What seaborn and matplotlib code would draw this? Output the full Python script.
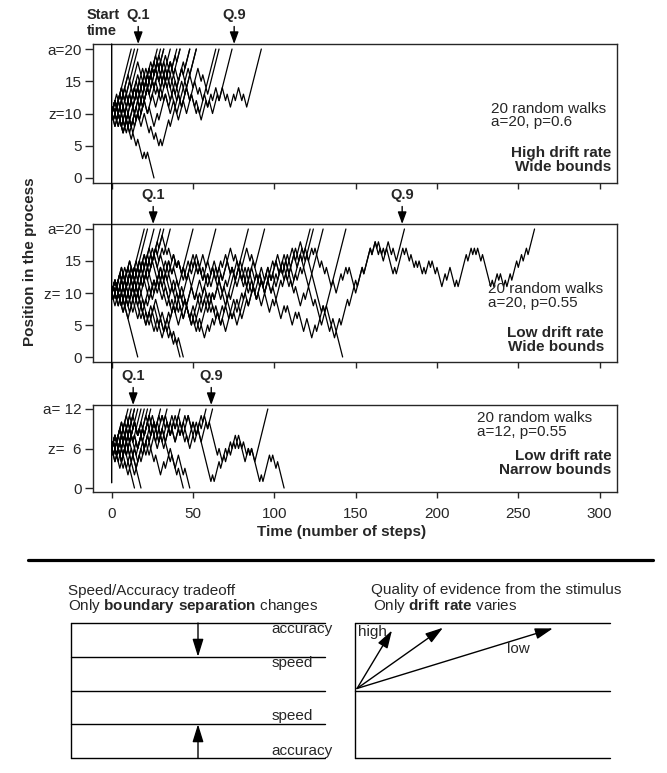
import numpy as np
import pandas as pd
import matplotlib
matplotlib.use("Agg")
import matplotlib.pyplot as plt
from matplotlib.patches import ConnectionPatch
import seaborn as sns

# Each walk is given by its turning points (positions where it changes
# direction). Every step moves one unit, so the time between two turning
# points is the size of the jump.

# a=20, z=10, p=0.6
high_wide = [
    [10, 11, 10, 20],
    [10, 12, 11, 13, 12, 20],
    [10, 9, 12, 11, 13, 12, 20],
    [10, 11, 8, 9, 7, 12, 11, 14, 12, 15, 14, 17, 16, 18, 17, 20],
    [10, 8, 11, 10, 13, 11, 14, 13, 16, 14, 17, 16, 20],
    [10, 12, 10, 11, 8, 10, 9, 13, 12, 15, 14, 16, 15, 17, 16, 20],
    [10, 9, 11, 8, 10, 9, 12, 11, 14, 13, 15, 13, 17, 16, 18, 17, 20],
    [10, 12, 11, 13, 10, 11, 8, 10, 9, 12, 11, 14, 13, 15, 14, 16, 14, 20],
    [10, 9, 11, 8, 9, 7, 9, 8, 12, 11, 16, 14, 17, 15, 18, 16, 17, 13, 14, 12, 15, 14, 20],
    [10, 11, 9, 12, 10, 13, 12, 15, 13, 16, 14, 17, 16, 18, 15, 16, 14, 20],
    [10, 8, 10, 7, 9, 8, 11, 10, 13, 11, 14, 13, 17, 15, 16, 14, 18, 17, 19, 18, 20],
    [10, 12, 11, 14, 12, 15, 13, 14, 11, 13, 12, 16, 14, 17, 16, 19, 17, 18, 16, 20],
    [10, 9, 12, 10, 11, 7, 9, 8, 11, 10, 14, 12, 15, 13, 16, 15, 18, 16, 17, 15, 18, 17, 20],
    [10, 11, 9, 10, 8, 12, 11, 13, 12, 15, 13, 17, 16, 18, 17, 19, 16, 17, 14, 16, 14, 17, 16, 20],
    [10, 12, 11, 14, 13, 16, 14, 18, 16, 17, 15, 18, 17, 19, 17, 18, 15, 16, 13, 15, 14, 17, 15, 17,
     16, 20],
    [10, 12, 9, 11, 8, 9, 7, 10, 9, 12, 10, 13, 11, 14, 12, 13, 10, 12, 11, 15, 13, 16, 14, 17, 15, 16,
     14, 20],
    [10, 11, 8, 9, 7, 10, 8, 11, 9, 12, 10, 11, 8, 10, 9, 13, 11, 14, 12, 13, 11, 14, 12, 15, 13, 14,
     12, 14, 13, 20],
    [10, 12, 10, 13, 11, 14, 13, 16, 14, 17, 15, 16, 13, 14, 12, 15, 12, 13, 10, 12, 11, 14, 12, 13,
     10, 11, 9, 12, 11, 13, 12, 14, 12, 20],
    [10, 13, 11, 14, 12, 13, 9, 10, 8, 10, 7, 8, 6, 7, 5, 6, 5, 9, 8, 11, 9, 12, 10, 13, 11, 12, 10,
     13, 11, 12, 10, 13, 12, 14, 12, 13, 11, 13, 12, 14, 12, 13, 11, 12, 20],
    [10, 12, 9, 10, 8, 9, 6, 7, 5, 6, 3, 4, 3, 4, 0],
]

# a=20, z=10, p=0.55
low_wide = [
    [10, 11, 10, 11, 9, 10, 0],
    [10, 12, 10, 13, 11, 14, 13, 20],
    [10, 9, 11, 9, 12, 11, 13, 12, 14, 13, 20],
    [10, 11, 9, 10, 8, 11, 10, 13, 12, 15, 14, 16, 15, 20],
    [10, 12, 11, 14, 12, 15, 13, 14, 11, 13, 12, 16, 15, 20],
    [10, 8, 10, 9, 11, 9, 12, 10, 13, 12, 15, 13, 16, 14, 17, 16, 20],
    [10, 11, 8, 9, 7, 10, 9, 12, 11, 14, 12, 15, 14, 17, 16, 20],
    [10, 9, 11, 8, 10, 7, 9, 6, 8, 5, 7, 4, 6, 5, 6, 4, 5, 3, 4, 2, 3, 0],
    [10, 11, 9, 10, 7, 9, 8, 11, 9, 10, 6, 7, 5, 7, 4, 5, 3, 5, 4, 5, 3, 4, 2, 3, 0],
    [10, 12, 11, 13, 11, 14, 12, 15, 13, 16, 14, 17, 16, 18, 17, 19, 16, 17, 15, 16, 14, 15, 13, 20],
    [10, 12, 10, 13, 11, 14, 12, 15, 13, 16, 14, 17, 15, 16, 14, 15, 14, 15, 13, 15, 14, 15, 13, 14,
     12, 14, 13, 15, 14, 15, 12, 13, 20],
    [10, 11, 9, 12, 10, 11, 8, 10, 9, 12, 11, 13, 10, 12, 11, 14, 12, 13, 10, 11, 9, 10, 7, 9, 8, 11,
     9, 12, 10, 13, 12, 15, 13, 14, 12, 15, 13, 14, 12, 20],
    [10, 12, 10, 11, 8, 10, 9, 11, 8, 12, 10, 11, 9, 12, 11, 14, 12, 13, 11, 12, 9, 11, 10, 13, 11, 14,
     13, 16, 14, 15, 13, 14, 11, 13, 12, 15, 13, 14, 12, 15, 14, 17, 15, 16, 14, 20],
    [10, 9, 11, 8, 9, 6, 8, 7, 9, 6, 7, 5, 7, 6, 8, 5, 6, 4, 6, 5, 8, 7, 10, 8, 9, 6, 7, 5, 6, 4, 5, 3,
     5, 4, 6, 5, 7, 5, 6, 4, 7, 6, 9, 7, 10, 8, 11, 9, 12, 10, 13, 12, 15, 13, 16, 14, 17, 15, 18, 16,
     20],
    [10, 11, 9, 12, 10, 13, 11, 12, 10, 11, 8, 10, 9, 12, 11, 13, 10, 11, 8, 9, 7, 10, 8, 9, 6, 8, 7,
     10, 9, 11, 8, 10, 9, 12, 10, 11, 9, 10, 13, 12, 14, 11, 12, 10, 12, 9, 10, 8, 10, 7, 9, 8, 9, 6,
     8, 7, 8, 5, 7, 6, 7, 4, 6, 3, 5, 4, 6, 5, 7, 4, 5, 3, 4, 0],
    [10, 12, 11, 14, 12, 15, 13, 14, 12, 15, 14, 17, 15, 16, 13, 14, 12, 15, 13, 14, 11, 13, 12, 15,
     14, 16, 13, 14, 12, 13, 11, 14, 12, 13, 10, 12, 11, 14, 13, 15, 12, 13, 11, 14, 12, 13, 11, 12,
     10, 13, 12, 15, 13, 14, 12, 14, 13, 16, 14, 17, 15, 20],
    [10, 9, 12, 10, 11, 8, 10, 9, 11, 8, 9, 6, 8, 7, 9, 6, 7, 5, 7, 6, 9, 7, 8, 6, 8, 5, 7, 6, 9, 8,
     10, 7, 8, 6, 7, 5, 8, 6, 9, 7, 10, 9, 12, 10, 11, 9, 12, 11, 10, 12, 10, 13, 12, 14, 13, 16, 14,
     17, 15, 16, 11, 12, 20],
    [10, 12, 11, 13, 11, 14, 12, 13, 10, 12, 11, 14, 13, 15, 12, 13, 11, 12, 9, 11, 10, 12, 9, 10, 8,
     11, 9, 10, 7, 9, 8, 10, 7, 8, 6, 8, 7, 9, 6, 7, 5, 7, 6, 9, 8, 11, 10, 13, 11, 14, 12, 13, 11, 14,
     13, 15, 13, 14, 12, 16, 15, 17, 7, 8, 7, 20],
    [10, 11, 8, 10, 9, 12, 10, 11, 9, 10, 7, 9, 8, 11, 10, 12, 9, 10, 8, 9, 7, 8, 5, 7, 6, 8, 5, 6, 4,
     6, 5, 8, 7, 10, 9, 11, 9, 10, 8, 10, 9, 12, 11, 13, 12, 14, 12, 13, 11, 13, 12, 14, 12, 13, 10,
     11, 9, 12, 11, 13, 11, 12, 10, 11, 8, 10, 9, 11, 8, 9, 6, 8, 7, 8, 5, 6, 4, 6, 5, 9, 8, 11, 10,
     14, 13, 17, 16, 18, 16, 17, 15, 18, 16, 17, 15, 20],
    [10, 12, 11, 13, 12, 14, 12, 13, 11, 14, 13, 15, 12, 13, 11, 12, 10, 13, 12, 14, 13, 16, 14, 15,
     13, 14, 12, 15, 14, 16, 13, 14, 12, 13, 11, 14, 13, 15, 14, 16, 15, 17, 15, 16, 13, 14, 12, 14,
     13, 15, 12, 13, 11, 12, 14, 13, 15, 14, 16, 14, 15, 12, 13, 11, 13, 12, 14, 13, 16, 15, 17, 16,
     17, 14, 15, 13, 14, 11, 12, 10, 11, 13, 12, 14, 13, 14, 11, 12, 11, 14, 13, 17, 16, 18, 17, 18,
     16, 17, 16, 17, 13, 14, 13, 17, 16, 17, 15, 16, 14, 15, 14, 15, 13, 14, 13, 15, 14, 15, 13, 14,
     13, 11, 13, 12, 14, 11, 12, 11, 16, 15, 17, 16, 17, 16, 17, 15, 16, 11, 12, 11, 13, 12, 13, 11,
     12, 11, 13, 12, 15, 14, 16, 15, 17, 16, 20],
]

# a=12, z=6, p=0.55
low_narrow = [
    [6, 7, 5, 12],
    [6, 8, 6, 7, 6, 12],
    [6, 5, 8, 6, 8, 7, 12],
    [6, 7, 5, 6, 3, 4, 2, 3, 0],
    [6, 8, 7, 9, 7, 10, 9, 12],
    [6, 4, 6, 5, 8, 7, 9, 8, 12],
    [6, 7, 5, 6, 4, 6, 3, 4, 2, 3, 0],
    [6, 7, 5, 8, 7, 9, 7, 10, 9, 12],
    [6, 5, 7, 4, 6, 5, 8, 7, 9, 8, 12],
    [6, 8, 6, 7, 5, 8, 7, 10, 8, 9, 8, 12],
    [6, 4, 5, 3, 6, 5, 8, 6, 7, 6, 9, 8, 12],
    [6, 7, 4, 6, 5, 7, 4, 5, 3, 6, 5, 8, 7, 10, 9, 12],
    [6, 8, 7, 10, 8, 9, 7, 10, 8, 9, 6, 7, 5, 8, 7, 9, 8, 12],
    [6, 5, 7, 4, 5, 3, 5, 4, 6, 5, 8, 6, 9, 8, 10, 7, 8, 6, 9, 8, 10, 9, 12],
    [6, 8, 7, 9, 6, 7, 5, 6, 3, 5, 4, 6, 5, 7, 4, 5, 2, 4, 3, 5, 4, 5, 2, 3, 0],
    [6, 7, 5, 8, 7, 10, 9, 11, 8, 9, 7, 10, 8, 9, 6, 8, 7, 8, 5, 6, 3, 5, 2, 3, 0],
    [6, 7, 5, 8, 6, 9, 7, 8, 6, 9, 8, 11, 9, 10, 8, 11, 10, 11, 8, 9, 7, 10, 9, 11, 10, 11, 9, 10, 8,
     9, 7, 10, 9, 12],
    [6, 5, 8, 7, 9, 6, 7, 5, 6, 4, 7, 6, 8, 7, 10, 9, 11, 10, 11, 9, 10, 8, 9, 7, 9, 8, 10, 9, 11, 9,
     10, 8, 10, 9, 12],
    [6, 8, 7, 9, 8, 10, 8, 9, 7, 8, 6, 9, 8, 10, 9, 11, 9, 10, 8, 9, 7, 10, 9, 11, 10, 11, 8, 9, 7, 9,
     8, 10, 9, 11, 10, 11, 9, 10, 5, 6, 4, 6, 5, 7, 6, 8, 7, 8, 6, 7, 5, 6, 5, 6, 4, 12],
    [6, 8, 7, 10, 9, 11, 10, 11, 9, 10, 8, 10, 9, 11, 10, 11, 8, 9, 7, 9, 8, 10, 9, 11, 9, 10, 8, 9, 7,
     8, 6, 8, 7, 9, 1, 2, 1, 4, 3, 5, 4, 6, 5, 7, 6, 7, 6, 7, 4, 6, 5, 6, 1, 2, 1, 5, 4, 5, 3, 4, 0],
]

panel_walks = [high_wide, low_wide, low_narrow]
panel_yticks = [[0, 5, 10, 15, 20], [0, 5, 10, 15, 20], [0, 6, 12]]
panel_yticklabels = [["0", "5", "z=10", "15", "a=20"],
                     ["0", "5", "z= 10", "15", "a=20"],
                     ["0", "z=  6", "a= 12"]]
panel_info = ["20 random walks\na=20, p=0.6",
              "20 random walks\na=20, p=0.55",
              "20 random walks\na=12, p=0.55"]
panel_title = ["High drift rate\nWide bounds",
               "Low drift rate\nWide bounds",
               "Low drift rate\nNarrow bounds"]
q1_times = [16.3, 25.5, 13.2]
q9_times = [75.3, 178.6, 61.2]

# schematic panels
tradeoff_bounds = [1.0, 0.5, 0.0, -0.5, -1.0]
tradeoff_labels = ["accuracy", "speed", "", "speed", "accuracy"]
drift_labels = ["high", "", "low"]
drift_end_t = [0.145, 0.345, 0.776]
drift_end_y = [0.89, 0.93, 0.92]


def walk_frame(walks):
    frames = []
    for i, pts in enumerate(walks):
        pts = np.asarray(pts)
        t = np.concatenate([[0], np.cumsum(np.abs(np.diff(pts)))])
        frames.append(pd.DataFrame({"walk": i, "t": t, "pos": pts}))
    return pd.concat(frames, ignore_index=True)


sns.set_style("ticks")
plt.rcParams["font.family"] = ["Liberation Sans", "DejaVu Sans"]
plt.rcParams["mathtext.fontset"] = "custom"
plt.rcParams["mathtext.rm"] = "Liberation Sans"
plt.rcParams["mathtext.bf"] = "Liberation Sans:bold"
plt.rcParams["axes.linewidth"] = 1.0

W, H = 667, 773
fig = plt.figure(figsize=(W / 100, H / 100), dpi=100)


def box(l, t, r, b):
    return [l / W, 1 - b / H, (r - l) / W, (b - t) / H]


bg = fig.add_axes([0, 0, 1, 1])
bg.set_xlim(0, W)
bg.set_ylim(H, 0)
bg.axis("off")

axes = [fig.add_axes(box(93, 44, 617, 183)),
        fig.add_axes(box(93, 224, 617, 362)),
        fig.add_axes(box(93, 405, 617, 492))]
ylims = [(-0.78, 20.78), (-0.78, 20.78), (-0.6, 12.6)]
info_xy = [(0.76, 0.486), (0.754, 0.478), (0.733, 0.77)]
title_xy = [(0.989, 0.169), (0.975, 0.156), (0.989, 0.339)]

arrow_q = dict(arrowstyle="-|>,head_length=0.6,head_width=0.22", color="black",
               lw=1.0, shrinkA=1, shrinkB=0, mutation_scale=12)

for i, ax in enumerate(axes):
    df = walk_frame(panel_walks[i])
    sns.lineplot(data=df, x="t", y="pos", units="walk", estimator=None, sort=False,
                 color="black", lw=0.9, ax=ax, legend=False)
    ax.set_xlim(-11.5, 310.7)
    ax.set_ylim(*ylims[i])
    ax.set_xticks(range(0, 301, 50))
    ax.set_yticks(panel_yticks[i])
    ax.set_yticklabels(panel_yticklabels[i])
    ax.set_xlabel("")
    ax.set_ylabel("")
    ax.tick_params(axis="x", length=4, width=1, pad=7, labelsize=11)
    ax.tick_params(axis="y", length=6, width=1, pad=2, labelsize=11)
    if i < 2:
        ax.tick_params(axis="x", labelbottom=False)
    for s in ax.spines.values():
        s.set_visible(True)
        s.set_linewidth(1)
    ax.text(*info_xy[i], panel_info[i], transform=ax.transAxes, ha="left", va="center",
            fontsize=11, linespacing=0.95)
    ax.text(*title_xy[i], panel_title[i], transform=ax.transAxes, ha="right", va="center",
            fontsize=11, fontweight="bold", linespacing=1.0)
    for q, lab in [(q1_times[i], "Q.1"), (q9_times[i], "Q.9")]:
        ax.annotate(lab, xy=(q, 1), xycoords=("data", "axes fraction"), xytext=(0, 21),
                    textcoords="offset points", ha="center", va="center", fontsize=10.5,
                    fontweight="bold", arrowprops=arrow_q, annotation_clip=False)

# start time line through the three panels
start = ConnectionPatch(xyA=(0, ylims[0][1]), coordsA=axes[0].transData,
                        xyB=(0, 0.8), coordsB=axes[2].transData, color="black", lw=1.0)
fig.add_artist(start)

bg.text(87, 15, "Start", fontsize=10.5, fontweight="bold", va="center")
bg.text(87, 31, "time", fontsize=10.5, fontweight="bold", va="center")
bg.text(30, 262, "Position in the process", rotation=90, fontsize=11, fontweight="bold",
        ha="center", va="center")
bg.text(342, 532, "Time (number of steps)", fontsize=11, fontweight="bold",
        ha="center", va="center")

# separator and schematic diagrams
bg.plot([28, 653], [560, 560], color="black", lw=2.3)
bg.text(68, 591, "Speed/Accuracy tradeoff", fontsize=11, va="center")
bg.text(68, 606, r"Only $\bf{boundary\ separation}$ changes", fontsize=11, va="center")
bg.text(371, 590, "Quality of evidence from the stimulus", fontsize=11, va="center")
bg.text(373, 606, r"Only $\bf{drift\ rate}$ varies", fontsize=11, va="center")

arrow_d = dict(arrowstyle="-|>,head_length=0.9,head_width=0.28", color="black",
               lw=1.0, shrinkA=0, shrinkB=0, mutation_scale=12)

dl = fig.add_axes(box(71, 623, 325, 758))
dl.set_xlim(0, 1)
dl.set_ylim(-1, 1)
dl.axis("off")
label_base = [0.85, 0.348, 0, -0.437, -0.956]
for b, lab, yb in zip(tradeoff_bounds, tradeoff_labels, label_base):
    dl.axhline(b, color="black", lw=1.0, clip_on=False)
    if lab:
        dl.text(0.79, yb, lab, fontsize=11, va="baseline", ha="left")
dl.axvline(0, color="black", lw=1.0, clip_on=False)
dl.annotate("", xy=(0.5, 0.5), xytext=(0.5, 1.0), arrowprops=arrow_d, annotation_clip=False)
dl.annotate("", xy=(0.5, -0.5), xytext=(0.5, -1.0), arrowprops=arrow_d, annotation_clip=False)

dr = fig.add_axes(box(355, 623, 610, 758))
dr.set_xlim(0, 1)
dr.set_ylim(-1, 1)
dr.axis("off")
for b in [1.0, 0.0, -1.0]:
    dr.axhline(b, color="black", lw=1.0, clip_on=False)
dr.axvline(0, color="black", lw=1.0, clip_on=False)
for tx, ty in zip(drift_end_t, drift_end_y):
    dr.annotate("", xy=(tx, ty), xytext=(0.008, 0.03), arrowprops=arrow_d,
                annotation_clip=False)
dr.text(0.012, 0.86, drift_labels[0], fontsize=11, va="center", ha="left")
dr.text(0.596, 0.61, drift_labels[2], fontsize=11, va="center", ha="left")

fig.savefig("out.png", dpi=100, facecolor="white")
